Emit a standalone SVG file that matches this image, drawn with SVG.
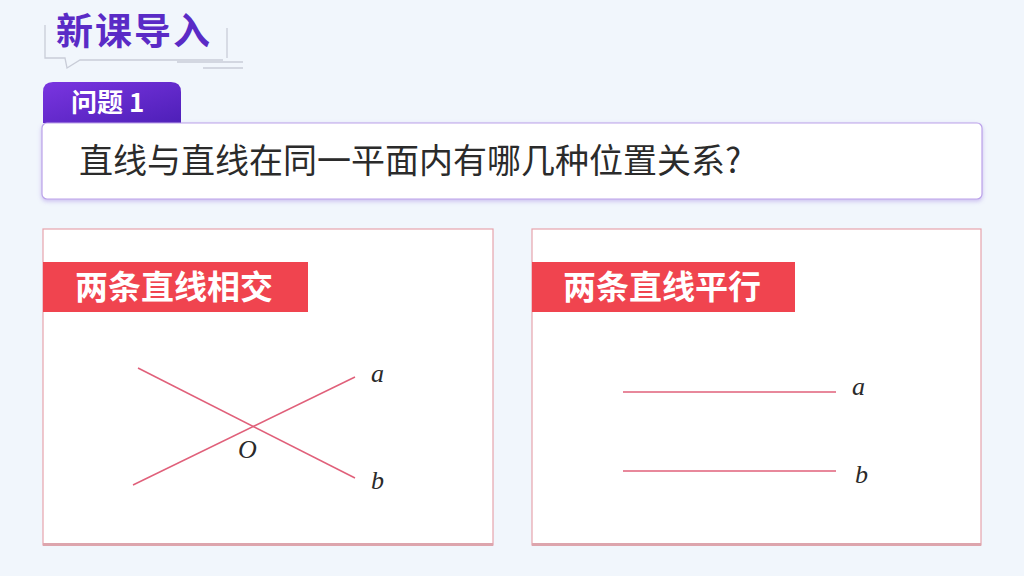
<svg xmlns="http://www.w3.org/2000/svg" width="1024" height="576" viewBox="0 0 1024 576">
<defs>
<linearGradient id="tabg" x1="0" y1="0" x2="1" y2="1">
<stop offset="0" stop-color="#7A35E0"/>
<stop offset="1" stop-color="#4E1FB8"/>
</linearGradient>
<filter id="sh" x="-5%" y="-10%" width="110%" height="140%">
<feDropShadow dx="0" dy="2" stdDeviation="2" flood-color="#9E7FE0" flood-opacity="0.45"/>
</filter>
<style>
.cjk{font-family:"Noto Sans CJK SC","Noto Sans",sans-serif}
.card{fill:#FFFFFF;stroke:#E6A3AC;stroke-width:1.2}
.cardb{stroke:#DDA5AD;stroke-width:3}
.lbl{fill:#F0444F}
.lbltxt{fill:#FFFFFF;font-size:33px;font-weight:700}
.ln{stroke:#E0607A;stroke-width:1.5;fill:none}
.var{font-family:"Liberation Serif","DejaVu Serif",serif;font-style:italic;font-size:26px;fill:#2A2A2A}
.deco{stroke:#C9CDD8;stroke-width:1.3;fill:none}
</style>
</defs>
<rect width="1024" height="576" fill="#F1F6FC"/>

<g id="title">
<path class="deco" d="M45 25 V58 H65 L67 68 L80 60 H223"/>
<path class="deco" d="M227 28 V58"/>
<path class="deco" d="M177 62 H243 M203 68 H243"/>
<text class="cjk" x="56" y="45" font-size="37" font-weight="700" fill="#5A2BC6" letter-spacing="2">新课导入</text>
</g>

<g id="question">
<path d="M43 123 V92 Q43 82 53 82 H171 Q181 82 181 92 V123 Z" fill="url(#tabg)"/>
<text class="cjk" x="71" y="112" font-size="26" font-weight="700" fill="#FFFFFF">问题 1</text>
<rect x="42" y="123" width="940" height="76" rx="5" fill="#FFFFFF" stroke="#BBA2EA" stroke-width="1.2" filter="url(#sh)"/>
<text class="cjk" x="79" y="173" font-size="34" fill="#2B2B2B">直线与直线在同一平面内有哪几种位置关系?</text>
</g>

<g id="card-intersect">
<rect class="card" x="43" y="229" width="450" height="316"/>
<path class="cardb" d="M43 544.5 H493"/>
<rect class="lbl" x="43" y="262" width="265" height="50"/>
<text class="cjk lbltxt" x="75" y="299">两条直线相交</text>
</g>

<g id="card-parallel">
<rect class="card" x="532" y="229" width="449" height="316"/>
<path class="cardb" d="M532 544.5 H981"/>
<rect class="lbl" x="532" y="262" width="263" height="50"/>
<text class="cjk lbltxt" x="563" y="299">两条直线平行</text>
</g>

<g id="connectors">
<line class="ln" x1="138" y1="368" x2="355" y2="478"/>
<line class="ln" x1="133" y1="485" x2="355" y2="377"/>
<line class="ln" x1="623" y1="392" x2="836" y2="392"/>
<line class="ln" x1="623" y1="471" x2="836" y2="471"/>
</g>

<g id="labels">
<text class="var" x="371" y="382">a</text>
<text class="var" x="371" y="489">b</text>
<text class="var" x="238" y="458">O</text>
<text class="var" x="852" y="395">a</text>
<text class="var" x="855" y="483">b</text>
</g>
</svg>
